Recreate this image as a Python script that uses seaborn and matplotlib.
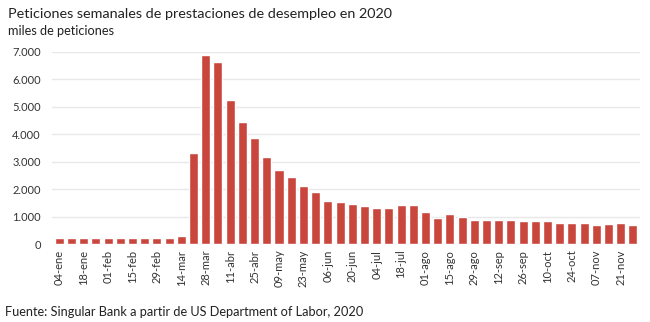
import matplotlib
matplotlib.use("Agg")
import matplotlib.pyplot as plt
import seaborn as sns
import pandas as pd
from matplotlib.ticker import FuncFormatter, MultipleLocator

weeks = ["04-ene", "11-ene", "18-ene", "25-ene", "01-feb", "08-feb", "15-feb", "22-feb",
         "29-feb", "07-mar", "14-mar", "21-mar", "28-mar", "04-abr", "11-abr", "18-abr",
         "25-abr", "02-may", "09-may", "16-may", "23-may", "30-may", "06-jun", "13-jun",
         "20-jun", "27-jun", "04-jul", "11-jul", "18-jul", "25-jul", "01-ago", "08-ago",
         "15-ago", "22-ago", "29-ago", "05-sep", "12-sep", "19-sep", "26-sep", "03-oct",
         "10-oct", "17-oct", "24-oct", "31-oct", "07-nov", "14-nov", "21-nov", "28-nov"]
claims = [215, 212, 218, 216, 210, 212, 214, 218, 217, 213, 282, 3307, 6867, 6615, 5237, 4442,
          3850, 3170, 2690, 2450, 2110, 1890, 1553, 1530, 1470, 1400, 1310, 1310, 1420, 1420,
          1180, 960, 1100, 1000, 890, 890, 860, 860, 830, 830, 830, 780, 750, 750, 700, 730,
          780, 700]

df = pd.DataFrame({"semana": weeks, "peticiones": claims})

sns.set_theme(style="white")
plt.rcParams["font.family"] = ["Lato", "DejaVu Sans"]

fig = plt.figure(figsize=(6.5, 3.22), dpi=100)
ax = fig.add_axes([0.08, 0.242, 0.905, 0.597])

sns.barplot(data=df, x="semana", y="peticiones", color="#C9463D", width=0.74,
            saturation=1, ax=ax, zorder=3)

ax.set_ylim(0, 7000)
ax.set_xlim(-0.6, len(weeks) - 0.4)
ax.yaxis.set_major_locator(MultipleLocator(1000))
ax.yaxis.set_major_formatter(FuncFormatter(lambda v, p: f"{int(v):,}".replace(",", ".")))
ax.grid(axis="y", color="#e8e8e8", linewidth=1, zorder=0)
for s in ax.spines.values():
    s.set_visible(False)

ax.set_xticks(range(0, len(weeks), 2))
ax.set_xticklabels(weeks[::2], rotation=90, fontsize=8, color="#333333")
ax.tick_params(axis="y", labelsize=8, colors="#333333", length=0, pad=8)
ax.tick_params(axis="x", length=0, pad=4)
ax.set_xlabel("")
ax.set_ylabel("")

fig.text(0.012, 0.955, "Peticiones semanales de prestaciones de desempleo en 2020",
         fontsize=10.4, color="#222222", ha="left", va="center")
fig.text(0.012, 0.905, "miles de peticiones", fontsize=9.2, color="#222222",
         ha="left", va="center")
fig.text(0.008, 0.03, "Fuente: Singular Bank a partir de US Department of Labor, 2020",
         fontsize=9.2, color="#222222", ha="left", va="center")

fig.savefig("out.png", dpi=100)
